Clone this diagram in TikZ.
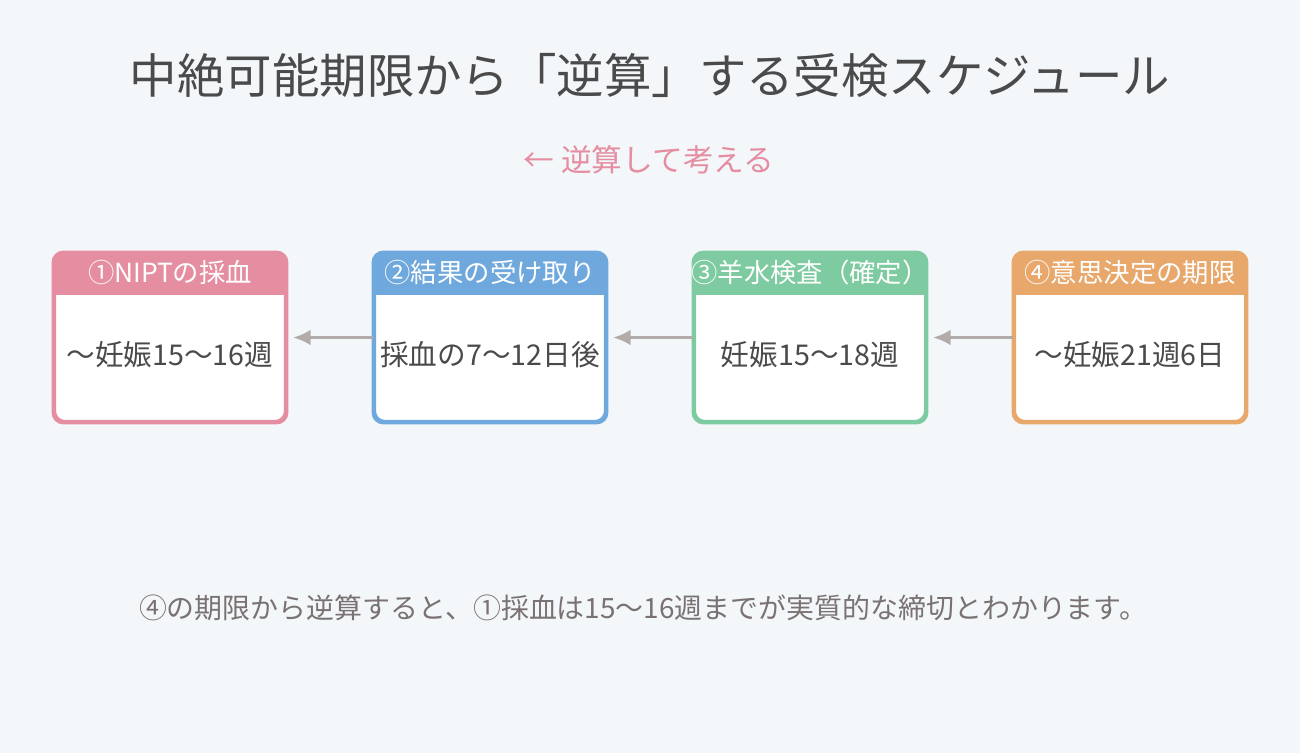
\documentclass[tikz,border=0pt]{standalone}
\usepackage{fontspec}
\setmainfont{Noto Sans CJK JP}
\usepackage{tikz}
\usetikzlibrary{arrows.meta}

\definecolor{bg}{HTML}{F3F7FA}
\definecolor{ink}{HTML}{4A4A4A}
\definecolor{note}{HTML}{7A7272}
\definecolor{pinkc}{HTML}{E58EA1}
\definecolor{bluec}{HTML}{6FA8DC}
\definecolor{greenc}{HTML}{7ECBA1}
\definecolor{orangec}{HTML}{E8A86C}
\definecolor{arrowc}{HTML}{B3AAAA}

\tikzset{
  card/.style={rectangle,rounded corners=6pt,draw=#1,line width=1.7pt,fill=white,
    minimum width=4.62cm,minimum height=3.36cm,inner sep=0pt},
  head/.style={text=white,font=\fontsize{15pt}{17pt}\selectfont},
  body/.style={text=ink,font=\fontsize{16.3pt}{19pt}\selectfont},
  back/.style={-{Latex[length=10pt,width=9pt]},draw=arrowc,line width=1.7pt}
}

\begin{document}
\begin{tikzpicture}[x=0.02cm,y=-0.02cm]
\fill[bg] (0,0) rectangle (1300,753);

\node (title) at (650,75) [text=ink,font=\fontsize{27pt}{30pt}\selectfont] {中絶可能期限から「逆算」する受検スケジュール};
\node (hint) at (649,160) [text=pinkc,font=\fontsize{17.5pt}{20pt}\selectfont] {← 逆算して考える};

% the four steps, right to left in time
\node (s1) at (170,337.5) [card=pinkc] {};
\node (s2) at (490,337.5) [card=bluec] {};
\node (s3) at (810,337.5) [card=greenc] {};
\node (s4) at (1130,337.5) [card=orangec] {};

% coloured header bands
\begin{scope}
\clip[rounded corners=6pt] (s1.north west) rectangle (s1.south east);
\fill[pinkc] (s1.north west) rectangle ([yshift=-0.86cm]s1.north east);
\end{scope}
\begin{scope}
\clip[rounded corners=6pt] (s2.north west) rectangle (s2.south east);
\fill[bluec] (s2.north west) rectangle ([yshift=-0.86cm]s2.north east);
\end{scope}
\begin{scope}
\clip[rounded corners=6pt] (s3.north west) rectangle (s3.south east);
\fill[greenc] (s3.north west) rectangle ([yshift=-0.86cm]s3.north east);
\end{scope}
\begin{scope}
\clip[rounded corners=6pt] (s4.north west) rectangle (s4.south east);
\fill[orangec] (s4.north west) rectangle ([yshift=-0.86cm]s4.north east);
\end{scope}
\draw[pinkc,line width=1.7pt,rounded corners=6pt] (s1.north west) rectangle (s1.south east);
\draw[bluec,line width=1.7pt,rounded corners=6pt] (s2.north west) rectangle (s2.south east);
\draw[greenc,line width=1.7pt,rounded corners=6pt] (s3.north west) rectangle (s3.south east);
\draw[orangec,line width=1.7pt,rounded corners=6pt] (s4.north west) rectangle (s4.south east);

\node (h1) at (170,272) [head] {①NIPTの採血};
\node (h2) at (490,272) [head] {②結果の受け取り};
\node (h3) at (810,272) [head] {③羊水検査（確定）};
\node (h4) at (1130,272) [head] {④意思決定の期限};

\node (b1) at (170,355) [body] {〜妊娠15〜16週};
\node (b2) at (490,355) [body] {採血の7〜12日後};
\node (b3) at (810,355) [body] {妊娠15〜18週};
\node (b4) at (1130,355) [body] {〜妊娠21週6日};

\draw[back] (s2.west) -- ([xshift=3.5pt]s1.east);
\draw[back] (s3.west) -- ([xshift=3.5pt]s2.east);
\draw[back] (s4.west) -- ([xshift=3.5pt]s3.east);

\node (foot) at (643,608) [text=note,font=\fontsize{15.9pt}{18pt}\selectfont] {④の期限から逆算すると、①採血は15〜16週までが実質的な締切とわかります。};
\end{tikzpicture}
\end{document}
